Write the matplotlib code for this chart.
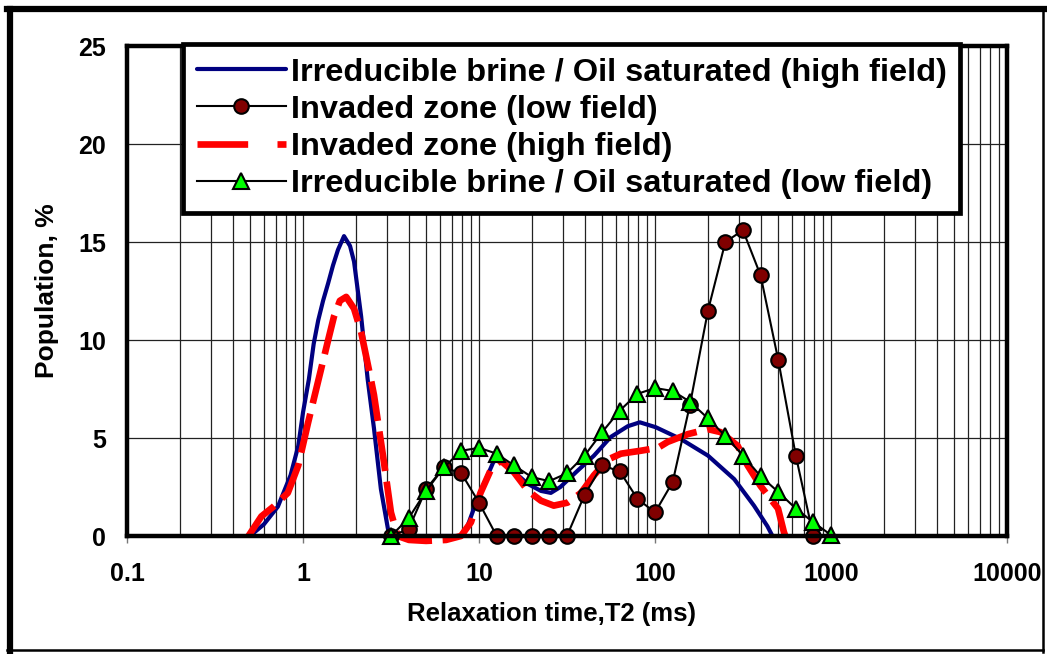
import matplotlib
matplotlib.use("Agg")
import matplotlib.pyplot as plt
from matplotlib.lines import Line2D
from matplotlib.ticker import LogLocator, FixedLocator, NullFormatter

plt.rcParams['font.family'] = ['Liberation Sans', 'DejaVu Sans']
plt.rcParams['font.weight'] = 'bold'

# ---- data ----
blue_t2 = [0.5, 0.6, 0.72, 0.85, 0.94, 1.0, 1.08, 1.15, 1.22, 1.3, 1.39, 1.48, 1.58, 1.71, 1.85, 1.95,
           2.14, 2.33, 2.53, 2.77, 3.04, 3.2, 8.0, 8.6, 9.8, 11.2, 12.1, 13.3, 15.7,
           19, 22.5, 25.6, 29, 36, 45, 56, 70, 82, 101, 140, 200, 282, 365, 435, 465]
blue_pop = [0, 0.6, 1.5, 3.1, 4.6, 6.3, 8.0, 9.8, 11.0, 12.0, 12.9, 13.8, 14.6, 15.3, 14.8, 14.0,
            11.2, 8.0, 5.5, 2.4, 0.35, 0, 0, 0.5, 1.9, 3.1, 3.8, 3.9, 3.3,
            2.65, 2.3, 2.2, 2.5, 3.3, 4.1, 5.05, 5.6, 5.8, 5.55, 4.95, 4.1, 2.9, 1.55, 0.5, 0]

red_t2 = [0.49, 0.58, 0.68, 0.82, 0.94, 1.07, 1.16, 1.39, 1.5, 1.62, 1.76, 1.95, 2.14,
          2.43, 2.53, 2.88, 3.16, 3.45, 4.0, 5.0, 6.5, 7.9, 9.0, 10.2, 11.7, 13.3,
          15.8, 19, 22.5, 26.6, 31.8, 38, 45, 54, 64, 83, 104, 118, 154, 200, 236,
          295, 336, 398, 500, 540, 550]
red_pop = [0, 1.0, 1.5, 2.2, 3.6, 5.8, 7.1, 10.0, 11.2, 12.0, 12.2, 11.6, 10.4,
           8.0, 7.2, 3.8, 1.2, 0, -0.2, -0.25, -0.2, 0, 0.7, 2.2, 3.4, 3.85,
           3.25, 2.3, 1.8, 1.55, 1.7, 2.2, 3.1, 3.9, 4.2, 4.35, 4.5, 4.8, 5.2, 5.45, 5.3,
           4.6, 3.6, 2.55, 1.4, 0.2, 0]

circ_t2 = [3.16, 3.98, 5.01, 6.31, 7.94, 10, 12.6, 15.8, 20, 25.1, 31.6, 39.8, 50.1,
           63.1, 79.4, 100, 126, 158, 200, 251, 316, 398, 501, 631, 794]
circ_pop = [0, 0.35, 2.4, 3.5, 3.2, 1.7, 0, 0, 0, 0, 0, 2.1, 3.6,
            3.3, 1.9, 1.2, 2.75, 6.7, 11.5, 15.0, 15.6, 13.3, 9.0, 4.1, 0]

tri_t2 = [3.16, 3.98, 5.01, 6.31, 7.94, 10, 12.6, 15.8, 20, 25.1, 31.6, 39.8, 50.1,
          63.1, 79.4, 100, 126, 158, 200, 251, 316, 398, 501, 631, 794, 1000]
tri_pop = [0, 0.9, 2.3, 3.5, 4.35, 4.5, 4.2, 3.6, 3.0, 2.8, 3.2, 4.1, 5.3,
           6.4, 7.25, 7.55, 7.4, 6.85, 6.0, 5.1, 4.1, 3.05, 2.25, 1.4, 0.7, 0.05]

labels = ["Irreducible brine / Oil saturated (high field)",
          "Invaded zone (low field)",
          "Invaded zone (high field)",
          "Irreducible brine / Oil saturated (low field)"]
x_ticks = [0.1, 1, 10, 100, 1000, 10000]
x_ticklabels = ["0.1", "1", "10", "100", "1000", "10000"]
y_ticks = [0, 5, 10, 15, 20, 25]

# ---- figure ----
fig = plt.figure(figsize=(10.47, 6.54), dpi=100)
ax = fig.add_axes([127/1047, 1-536/654, 880/1047, 490/654])

ax.set_xscale('log')
ax.set_xlim(0.1, 10000)
ax.set_ylim(0, 25)

l1, = ax.plot(blue_t2, blue_pop, color='#000080', lw=3.0, zorder=3, solid_capstyle='round')
l2, = ax.plot(circ_t2, circ_pop, color='black', lw=1.5, marker='o', markersize=10.5,
              markerfacecolor='#800000', markeredgecolor='black', markeredgewidth=1.5,
              zorder=5, clip_on=False)
l3, = ax.plot(red_t2, red_pop, color='#FF0000', lw=4.8, dashes=(6.0, 1.6), zorder=4,
              clip_on=False)
l4, = ax.plot(tri_t2, tri_pop, color='black', lw=1.5, marker='^', markersize=11,
              markerfacecolor='#00FF00', markeredgecolor='black', markeredgewidth=1.5,
              zorder=6, clip_on=False)

# grid
ax.xaxis.set_major_locator(FixedLocator(x_ticks))
ax.xaxis.set_minor_locator(LogLocator(base=10, subs=range(2, 10), numticks=20))
ax.xaxis.set_minor_formatter(NullFormatter())
ax.set_xticks(x_ticks)
ax.set_xticklabels(x_ticklabels)
ax.set_yticks(y_ticks)
ax.grid(True, which='both', axis='x', color='#222222', lw=0.9, zorder=0)
ax.grid(True, which='major', axis='y', color='#222222', lw=0.9, zorder=0)
ax.set_axisbelow(True)

ax.tick_params(axis='x', which='major', direction='out', length=5, width=1,
               color='#777777', pad=14, labelsize=18)
ax.tick_params(axis='x', which='minor', length=0)
ax.tick_params(axis='y', which='major', length=0, pad=15, labelsize=18)
for lab in ax.get_xticklabels() + ax.get_yticklabels():
    lab.set_fontweight('bold')

for s in ax.spines.values():
    s.set_linewidth(3.2)
    s.set_color('black')
    s.set_zorder(7)

fig.text(552/1047, 1-614/654, "Relaxation time,T2 (ms)", ha='center', va='center',
         fontsize=18.5, fontweight='bold')
fig.text(47/1047, 1-291/654, "Population, %", ha='center', va='center',
         rotation=90, fontsize=19, fontweight='bold')

leg = ax.legend([l1, l2, l3, l4], labels, loc='upper left',
                bbox_to_anchor=(56/880, 1.004), borderaxespad=0,
                prop={'family': ['Liberation Sans', 'DejaVu Sans'], 'weight': 'bold', 'size': 23.4},
                handlelength=2.75, handletextpad=0.15, labelspacing=0.22,
                borderpad=0.42, numpoints=1, fancybox=False, framealpha=1,
                edgecolor='black')
leg.get_frame().set_linewidth(3.4)
leg.set_zorder(10)
leg.get_lines()[2].set_dashes((7.6, 4.4))

# figure outer border
fig.add_artist(Line2D([10/1047, 10/1047], [0, 1-8.5/654], transform=fig.transFigure,
                      color='black', lw=4.5))
fig.add_artist(Line2D([7/1047, 1], [1-8.5/654, 1-8.5/654], transform=fig.transFigure,
                      color='black', lw=4.5))
fig.add_artist(Line2D([1042.5/1047, 1042.5/1047], [2/654, 1-8.5/654], transform=fig.transFigure,
                      color='black', lw=1.8))
fig.add_artist(Line2D([7/1047, 1043/1047], [1-649.5/654, 1-649.5/654], transform=fig.transFigure,
                      color='black', lw=1.8))

fig.savefig("out.png", dpi=100, facecolor='white')
